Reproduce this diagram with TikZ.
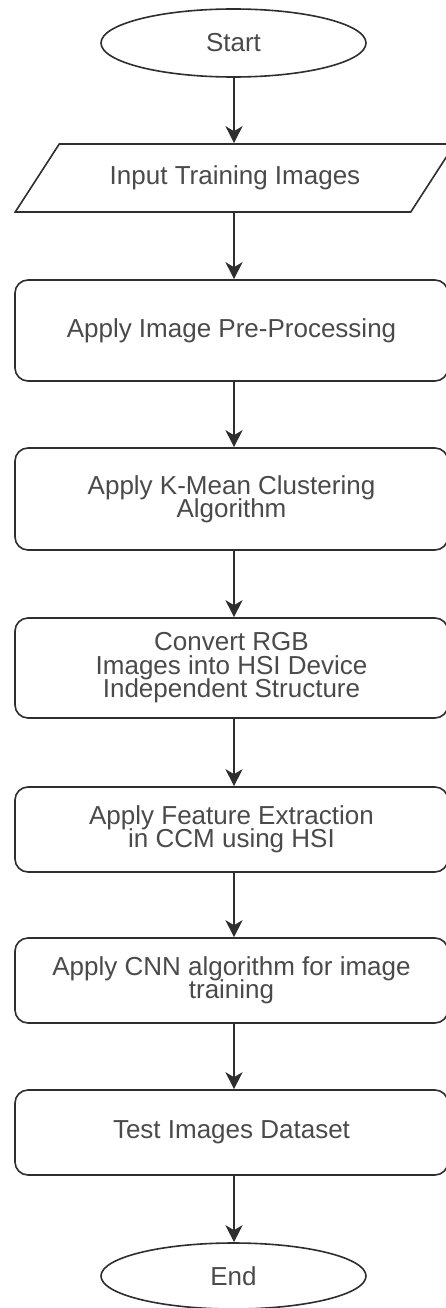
\documentclass[tikz,border=0pt]{standalone}
\usepackage{fontspec}
\setmainfont{Liberation Sans}
\usetikzlibrary{shapes.geometric,arrows.meta}
\definecolor{edgegray}{HTML}{2E2E2E}
\definecolor{textgray}{HTML}{4A4A4A}
% box text: large sans with tight, fixed line spacing
\newcommand\boxfont{\fontsize{26}{23.4}\selectfont\lineskiplimit=-100pt\relax}
\begin{document}
\begin{tikzpicture}[x=1pt,y=-1pt,
  every node/.style={text=textgray,font=\boxfont,align=center,line width=1.6pt,draw=edgegray},
  terminal/.style={ellipse,minimum width=265pt,minimum height=68pt,inner sep=0pt},
  iobox/.style={trapezium,trapezium left angle=37.7,trapezium right angle=142.3,
    trapezium stretches=true,minimum width=440pt,minimum height=68pt,inner sep=0pt},
  procbox/.style={rectangle,rounded corners=13pt,minimum width=433pt,inner sep=0pt},
  flow/.style={draw=edgegray,line width=1.6pt,-{Stealth[length=17pt,width=17pt,inset=5pt]}}]
  \useasboundingbox (0,0) rectangle (445,1308);
  \fill[white] (0,0) rectangle (445,1308);

  \node[terminal] (start) at (233.5,43) {Start};
  \node[iobox] (input) at (235,178) {Input Training Images};
  \node[procbox,minimum height=101pt] (pre) at (231.5,330.5) {Apply Image Pre-Processing};
  \node[procbox,minimum height=102pt] (kmean) at (231.5,499) {Apply K-Mean Clustering\\Algorithm};
  \node[procbox,minimum height=100pt] (hsi) at (231.5,668) {Convert RGB\\Images into HSI Device\\Independent Structure};
  \node[procbox,minimum height=85pt] (feat) at (231.5,829.5) {Apply Feature Extraction\\in CCM using HSI};
  \node[procbox,minimum height=85pt] (cnn) at (231.5,980.5) {Apply CNN algorithm for image\\training};
  \node[procbox,minimum height=85pt] (test) at (231.5,1132.5) {Test Images Dataset};
  \node[terminal,minimum height=66pt] (stop) at (233.5,1276) {End};

  \coordinate (axis) at (234,0);
  \draw[flow] (axis |- start.south) -- (axis |- input.north);
  \draw[flow] (axis |- input.south) -- (axis |- pre.north);
  \draw[flow] (axis |- pre.south) -- (axis |- kmean.north);
  \draw[flow] (axis |- kmean.south) -- (axis |- hsi.north);
  \draw[flow] (axis |- hsi.south) -- (axis |- feat.north);
  \draw[flow] (axis |- feat.south) -- (axis |- cnn.north);
  \draw[flow] (axis |- cnn.south) -- (axis |- test.north);
  \draw[flow] (axis |- test.south) -- (axis |- stop.north);
\end{tikzpicture}
\end{document}
